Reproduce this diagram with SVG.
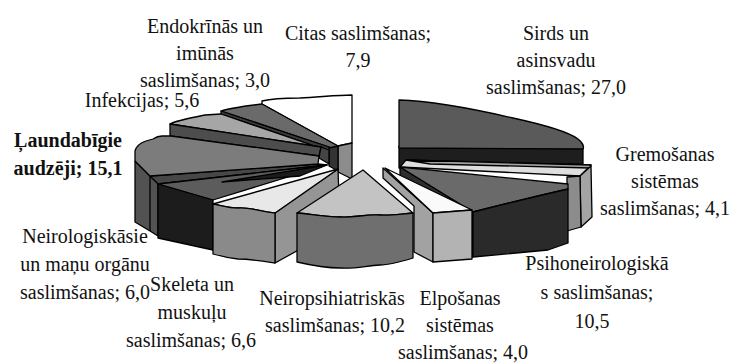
<svg xmlns="http://www.w3.org/2000/svg" width="733" height="364" viewBox="0 0 733 364">
<style>
.f{stroke:#000;stroke-width:1.3;stroke-linejoin:round}
.t{font-family:"Liberation Serif","Times New Roman",serif;font-size:20px;fill:#111;text-anchor:middle}
.b{font-weight:bold}
</style>
<rect width="733" height="364" fill="#fff"/>
<g id="sirds">
<path class="f" fill="#1e1e1e" d="M399,146 L583,147 L583,164 L399,168 Z"/>
<path class="f" fill="#5a5a5a" d="M399,100 C430,101 470,108 513,118 C545,125 570,133 578,139 C583,143 584,147 583,149 L399,148 Z"/>
<text class="t" x="556" y="40">Sirds un</text>
<text class="t" x="556" y="67">asinsvadu</text>
<text class="t" x="556" y="94">saslimšanas; 27,0</text>
</g>
<g id="citas">
<path class="f" fill="#fff" d="M262,104 L262,101 C270,99 285,98 300,98 C320,97 338,95 352,95 L352,143 L338,146 Z"/>
<path class="f" fill="#8c8c8c" d="M338,146 L352,143 L352,179 L338,172 Z"/>
<text class="t" x="358" y="40">Citas saslimšanas;</text>
<text class="t" x="358" y="67">7,9</text>
</g>
<g id="endokrinas">
<path class="f" fill="#6a6a6a" d="M221,111 C230,108 245,106 262,104 L338,146 L332,148 Z"/>
<path class="f" fill="#3a3a3a" d="M221,111 L332,148 L329,151 L221,114 Z"/>
<path class="f" fill="#333" d="M329,148 L338,146 L338,171 L329,166 Z"/>
<text class="t" x="205" y="33">Endokrīnās un</text>
<text class="t" x="205" y="60">imūnās</text>
<text class="t" x="205" y="87">saslimšanas; 3,0</text>
</g>
<g id="infekcijas">
<path class="f" fill="#a6a6a6" d="M170,124 C175,121 190,118 205,115 L221,114 L329,151 L321,147 Z"/>
<path class="f" fill="#4d4d4d" d="M170,124 L321,147 L319,156 L170,136 Z"/>
<path class="f" fill="#454545" d="M321,147 L329,150 L329,164 L319,158 Z"/>
<text class="t" x="142" y="107">Infekcijas; 5,6</text>
</g>
<g id="laundabigie">
<path class="f" fill="#525252" d="M135,161 L150,176 L158,183 L158,236 L150,231 L135,222 Z"/>
<path class="f" fill="none" d="M150,176 L150,231"/>
<path class="f" fill="#474747" d="M150,176 L318,164 L327,165 L158,184 Z"/>
<path class="f" fill="#7c7c7c" d="M135,151 C136,147 140,143 146,141 L153,139 C156,137 158,136 162,136 L171,136 L319,156 L318,164 L150,176 L135,161 Z"/>
<text class="t b" x="68" y="147">Ļaundabīgie</text>
<text class="t b" x="68" y="175">audzēji; 15,1</text>
</g>
<g id="gremosanas">
<path class="f" fill="#dedede" d="M406,160 L591,165 L580,176 L400,167 Z"/>
<path class="f" fill="#a0a0a0" d="M406,160 L591,165 L590,168 L430,164 Z"/>
<path class="f" fill="#a4a4a4" d="M580,176 L591,166 L592,217 L581,227 Z"/>
<path class="f" fill="#8c8c8c" d="M567,177 L580,176 L581,227 L567,231 Z"/>
<text class="t" x="665" y="161">Gremošanas</text>
<text class="t" x="665" y="188">sistēmas</text>
<text class="t" x="665" y="215">saslimšanas; 4,1</text>
</g>
<g id="psihoneirologiska">
<path class="f" fill="#2e2e2e" d="M400,167 L473,212 L473,257 L440,236 L400,185 Z"/>
<path class="f" fill="#6a6a6a" d="M400,167 L568,184 L568,189 Q520,200 473,212 Z"/>
<path class="f" fill="#2a2a2a" d="M473,212 Q520,200 568,189 L568,243 L548,250 L473,257 Z"/>
<text class="t" x="597" y="270">Psihoneirologiskā</text>
<text class="t" x="597" y="299">s saslimšanas;</text>
<text class="t" x="592" y="328">10,5</text>
</g>
<g id="neirologiskasie">
<path class="f" fill="#5c5c5c" d="M158,184 L327,165 L213,200 Z"/>
<path class="f" fill="#1c1c1c" d="M222,182 L327,165 L300,176 Z"/>
<path class="f" fill="#1c1c1c" d="M158,184 L213,200 L213,250 L158,238 Z"/>
<text class="t" x="85" y="243">Neirologiskāsie</text>
<text class="t" x="85" y="271">un maņu orgānu</text>
<text class="t" x="85" y="299">saslimšanas; 6,0</text>
</g>
<g id="elposanas">
<path class="f" fill="#a2a2a2" d="M383,168 L433,213 L433,262 L414,252 L414,206 L383,178 Z"/>
<path class="f" fill="#fafafa" d="M385,168 L472,210 L433,213 Z"/>
<path class="f" fill="#b3b3b3" d="M433,213 L472,210 L472,259 L433,262 Z"/>
<text class="t" x="460" y="305">Elpošanas</text>
<text class="t" x="460" y="332">sistēmas</text>
<text class="t" x="463" y="359">saslimšanas; 4,0</text>
</g>
<g id="skeleta">
<path class="f" fill="#959595" d="M275,213 L338,169 L340,227 L275,263 Z"/>
<path class="f" fill="#e8e8e8" d="M213,204 L338,169 L275,213 C262,212 250,207 238,208 C228,208 220,205 213,204 Z"/>
<path class="f" fill="#8a8a8a" d="M213,204 C220,205 228,208 238,208 C250,207 262,212 275,213 L275,263 C262,261 250,259 238,259 C228,258 220,256 213,254 Z"/>
<text class="t" x="192" y="291">Skeleta un</text>
<text class="t" x="192" y="319">muskuļu</text>
<text class="t" x="191" y="347">saslimšanas; 6,6</text>
</g>
<g id="neiropsihiatriskas">
<path class="f" fill="#c3c3c3" d="M363,170 L413,213 C400,214 390,216 380,215 C365,214 355,218 340,217 C325,217 310,214 297,213 Z"/>
<path class="f" fill="#6f6f6f" d="M297,213 C310,214 325,217 340,217 C355,218 365,214 380,215 C390,216 400,214 413,213 L413,258 C400,262 390,265 380,265 C365,266 355,269 340,268 C325,268 310,265 297,262 Z"/>
<text class="t" x="332" y="305">Neiropsihiatriskās</text>
<text class="t" x="335" y="332">saslimšanas; 10,2</text>
</g>
</svg>
